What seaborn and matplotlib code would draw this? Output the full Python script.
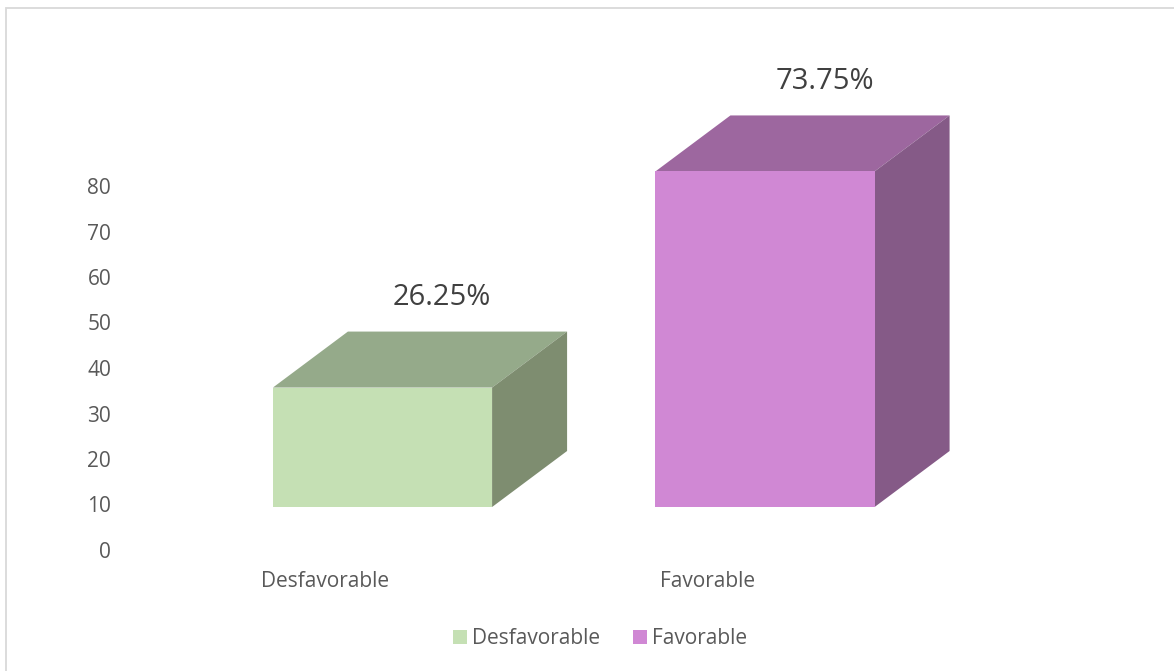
import matplotlib
matplotlib.use("Agg")
import matplotlib.pyplot as plt
from matplotlib.patches import Polygon, Rectangle, Patch
import seaborn as sns
import pandas as pd

# Data
categories = ["Desfavorable", "Favorable"]
values = [26.25, 73.75]
value_labels = ["26.25%", "73.75%"]
y_ticks = [0, 10, 20, 30, 40, 50, 60, 70, 80]

front_colors = ["#C5E0B4", "#D088D4"]
top_colors = ["#95AA8A", "#9D679F"]
side_colors = ["#7E8D70", "#855A87"]

sns.set_theme(style="white")
plt.rcParams["font.family"] = ["Open Sans", "DejaVu Sans"]

W, H = 1174, 671
fig = plt.figure(figsize=(W / 100, H / 100), dpi=100)

# axes placement (pixels) and scales
ax_left_px, ax_right_px, ax_top_px, ax_bot_px = 130, 1020, 40, 560
ax = fig.add_axes([ax_left_px / W, 1 - ax_bot_px / H,
                   (ax_right_px - ax_left_px) / W, (ax_bot_px - ax_top_px) / H])

px_per_cat = 382.5
cat0_px = 382.5
px_per_unit = 4.55
zero_px = 550

xlim = ((ax_left_px - cat0_px) / px_per_cat, (ax_right_px - cat0_px) / px_per_cat)
ylim = ((zero_px - ax_bot_px) / px_per_unit, (zero_px - ax_top_px) / px_per_unit)

base = 9.45            # floor level of the front faces
bar_w = 0.573
depth_x = 75 / px_per_cat
depth_y = 56 / px_per_unit

df = pd.DataFrame({"cat": categories, "val": values})
sns.barplot(data=df, x="cat", y="val", hue="cat", palette=front_colors,
            saturation=1, width=bar_w, bottom=base, legend=False, ax=ax,
            edgecolor="none", linewidth=0, zorder=3)

for i, v in enumerate(values):
    x0, x1 = i - bar_w / 2, i + bar_w / 2
    y0, y1 = base, base + v
    top = Polygon([(x0, y1), (x1, y1), (x1 + depth_x, y1 + depth_y),
                   (x0 + depth_x, y1 + depth_y)],
                  closed=True, facecolor=top_colors[i], edgecolor="none", zorder=2)
    side = Polygon([(x1, y0), (x1 + depth_x, y0 + depth_y),
                    (x1 + depth_x, y1 + depth_y), (x1, y1)],
                   closed=True, facecolor=side_colors[i], edgecolor="none", zorder=2)
    ax.add_patch(top)
    ax.add_patch(side)
    ax.text(i + depth_x / 2 + 0.058, y1 + depth_y + 7.4, value_labels[i],
            ha="center", va="center", fontsize=21, color="#404040")

ax.set_xlim(*xlim)
ax.set_ylim(*ylim)
ax.set_yticks(y_ticks)
ax.set_yticklabels([str(t) for t in y_ticks], fontsize=15, color="#595959")
ax.set_xticks([i - 0.15 for i in range(len(categories))])
ax.set_xticklabels(categories, fontsize=15, color="#595959")
ax.tick_params(axis="y", length=0, pad=13.5)
ax.tick_params(axis="x", length=0, pad=8)
ax.set_xlabel("")
ax.set_ylabel("")
for s in ax.spines.values():
    s.set_visible(False)
ax.patch.set_alpha(0)

handles = [Patch(facecolor=c, edgecolor="none") for c in front_colors]
fig.legend(handles, categories, loc="center", bbox_to_anchor=(600 / W, 1 - 639 / H),
           ncol=2, frameon=False, fontsize=15, handlelength=0.67, handleheight=0.67,
           handletextpad=0.25, columnspacing=1.6, labelcolor="#595959")

fig.patches.append(Rectangle((6 / W, -0.1), 1.2, 1 - 8 / H + 0.1,
                             transform=fig.transFigure, fill=False,
                             edgecolor="#D9D9D9", linewidth=1.3))

fig.savefig("out.png", dpi=100)
